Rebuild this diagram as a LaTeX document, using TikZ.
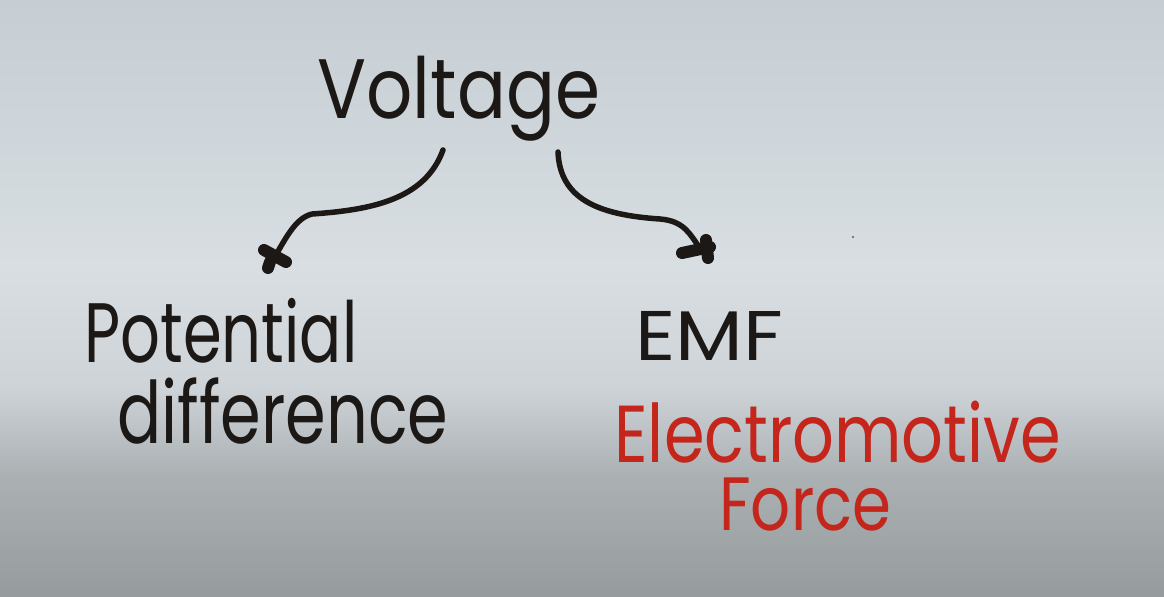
\documentclass[tikz,border=0pt]{standalone}
\usepackage{fontspec}
\setmainfont{Poppins}
\definecolor{inkblack}{HTML}{1C1816}
\definecolor{inkred}{HTML}{C4261C}
\definecolor{bgtop}{HTML}{C6CED3}
\definecolor{bgmid}{HTML}{D8DEE2}
\definecolor{bglow}{HTML}{CDD3D7}
\definecolor{bgdeep}{HTML}{ABB0B3}
\definecolor{bgbot}{HTML}{969B9E}
\pgfdeclareverticalshading{boardbg}{100bp}{color(0bp)=(bgbot); color(25bp)=(bgbot); color(35bp)=(bgdeep); color(42.5bp)=(bglow); color(52.5bp)=(bgmid); color(75bp)=(bgtop); color(100bp)=(bgtop)}
\begin{document}
\begin{tikzpicture}[x=0.02cm,y=-0.02cm,
  ink/.style={draw=inkblack,line width=0.11cm,line cap=round,line join=round},
  bar/.style={draw=inkblack,line width=0.24cm,line cap=round},
  word/.style={inner sep=0pt,anchor=base west,text=inkblack,text height=0.72em,text depth=0pt},
  redword/.style={inner sep=0pt,anchor=base west,text=inkred,text height=0.72em,text depth=0pt}]
\path[use as bounding box] (0,0) rectangle (1164,596);
\shade[shading=boardbg] (0,0) rectangle (1164,596);
% texts
\node[word,font=\fontsize{48}{48}\selectfont] (volt) at (317,118) {\scalebox{0.86}[1]{Voltage}};
\node[word,font=\fontsize{48}{48}\selectfont] (pot) at (84,362) {\scalebox{0.74}[1]{Potential}};
\node[word,font=\fontsize{49}{49}\selectfont] (diff) at (117,443) {\scalebox{0.76}[1]{difference}};
\node[word,font=\fontsize{40}{40}\selectfont] (emf) at (635,360) {\scalebox{1.12}[1]{EMF}};
\node[redword,font=\fontsize{46}{46}\selectfont] (elec) at (614,462) {\scalebox{0.81}[1]{Electromotive}};
\node[redword,font=\fontsize{43}{43}\selectfont] (force) at (719,530) {\scalebox{0.83}[1]{Force}};
% connectors
\coordinate (s1) at (443,150);
\coordinate (e1) at (274,258);
\coordinate (s2) at (558,152);
\coordinate (e2) at (700,248);
\draw[ink] (s1) .. controls (425,200) and (370,210) .. (312,214)
  .. controls (295,218) and (285,240) .. (e1);
\draw[bar] (264,250) -- (286,262);
\draw[bar] (270,262) -- (268,268);
\draw[ink] (s2) .. controls (560,200) and (600,215) .. (660,219)
  .. controls (685,221) and (690,235) .. (e2);
\draw[bar] (682,253) -- (710,247);
\draw[bar] (706,240) -- (708,258);
% speck
\fill[gray!70!black] (853,237) circle (1.2);
\end{tikzpicture}
\end{document}
